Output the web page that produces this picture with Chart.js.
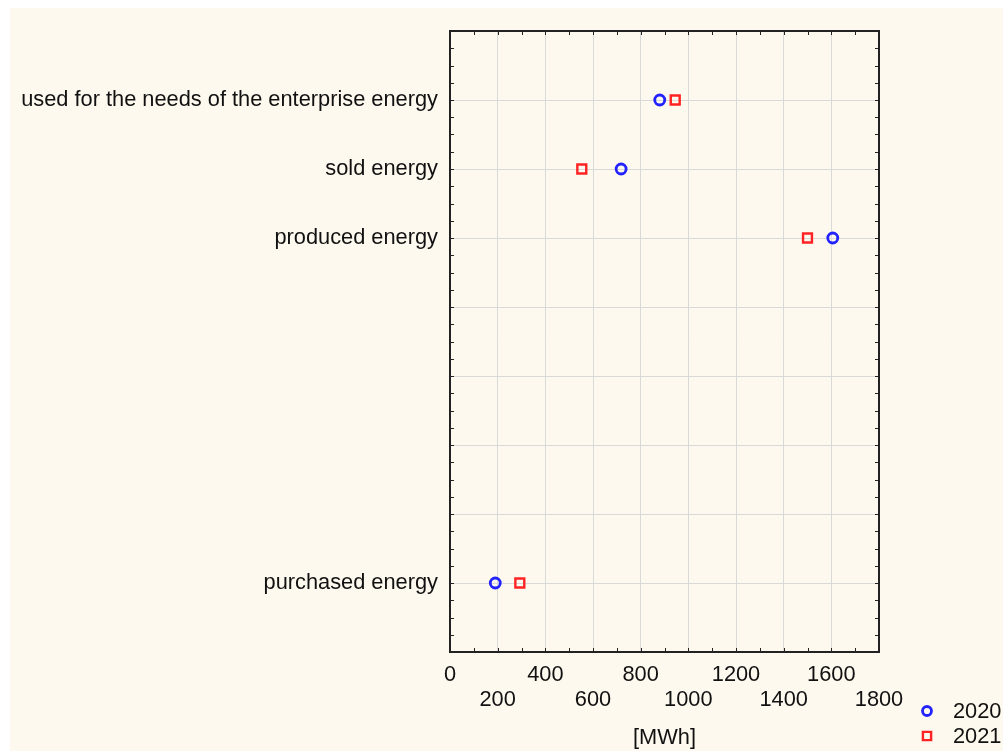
<!DOCTYPE html>
<html>
<head>
<meta charset="utf-8">
<title>Energy 2020 / 2021</title>
<script src="https://cdn.jsdelivr.net/npm/chart.js@4"></script>
<style>
  html, body { margin: 0; padding: 0; background: #ffffff; }
  #bg { position: absolute; left: 10px; top: 8px; right: 0; bottom: 0; background: #fef9ee; }
  #wrap { position: absolute; left: 0; top: 0; width: 1003px; height: 751px; }
</style>
</head>
<body>
<div id="bg"></div>
<div id="wrap"><canvas id="chart" width="1003" height="751"></canvas></div>
<script>
// Category slots on the vertical axis (bottom to top), blanks are empty rows
const slots = ['', 'purchased energy', '', '', '', '', 'produced energy', 'sold energy',
  'used for the needs of the enterprise energy', ''];

const categories = ['used for the needs of the enterprise energy', 'sold energy', 'produced energy', 'purchased energy'];
const values2020 = [880, 718, 1606, 190];
const values2021 = [945, 553, 1500, 293];

const seriesNames = ['2020', '2021'];
const xTicks = [0, 200, 400, 600, 800, 1000, 1200, 1400, 1600, 1800];
const xTitle = '[MWh]';

const FONT = 'Liberation Sans, Arial, sans-serif';
const FONT_SIZE = 21.8;
const TEXT = '#111111';

const toPoints = vals => vals.map((v, i) => ({ x: v, y: slots.indexOf(categories[i]) }));

// Frame around the plot with small inward ticks on every side
const framePlugin = {
  id: 'frame',
  afterDraw(chart) {
    const { ctx, chartArea: a, scales } = chart;
    const x = scales.x, y = scales.y;
    ctx.save();
    ctx.strokeStyle = '#222222';
    ctx.lineWidth = 1;
    ctx.beginPath();
    for (let v = x.min; v <= x.max; v += 100) {
      const px = Math.round(x.getPixelForValue(v)) + 0.5;
      ctx.moveTo(px, a.top); ctx.lineTo(px, a.top + 4);
      ctx.moveTo(px, a.bottom); ctx.lineTo(px, a.bottom - 4);
    }
    for (let v = y.min; v <= y.max; v += 0.25) {
      const py = Math.round(y.getPixelForValue(v)) + 0.5;
      ctx.moveTo(a.left, py); ctx.lineTo(a.left + 4, py);
      ctx.moveTo(a.right, py); ctx.lineTo(a.right - 4, py);
    }
    ctx.stroke();
    ctx.lineWidth = 2;
    ctx.strokeRect(a.left, a.top, a.right - a.left, a.bottom - a.top);
    ctx.restore();
  }
};

// Legend in the lower right corner, below the plot
const legendPlugin = {
  id: 'cornerLegend',
  afterDraw(chart) {
    const { ctx, chartArea: a } = chart;
    ctx.save();
    ctx.font = FONT_SIZE + 'px ' + FONT;
    ctx.textBaseline = 'middle';
    ctx.textAlign = 'left';
    chart.data.datasets.forEach((ds, i) => {
      const mx = a.right + 48;
      const my = a.bottom + 59 + i * 25;
      ctx.strokeStyle = ds.borderColor;
      ctx.fillStyle = 'rgba(0,0,0,0)';
      ctx.lineWidth = ds.borderWidth;
      Chart.helpers.drawPoint(ctx, { pointStyle: ds.pointStyle, radius: ds.pointRadius - 0.5, borderWidth: ds.borderWidth }, mx, my);
      ctx.fillStyle = TEXT;
      ctx.fillText(ds.label, a.right + 74, my + 1);
    });
    ctx.restore();
  }
};

new Chart(document.getElementById('chart'), {
  type: 'scatter',
  data: {
    datasets: [
      {
        label: seriesNames[0],
        data: toPoints(values2020),
        pointStyle: 'circle',
        pointRadius: 5,
        pointHoverRadius: 5,
        borderColor: '#2323ff',
        backgroundColor: 'rgba(255,255,255,0)',
        borderWidth: 2.8
      },
      {
        label: seriesNames[1],
        data: toPoints(values2021),
        pointStyle: 'rect',
        pointRadius: 6.3,
        pointHoverRadius: 6.3,
        borderColor: '#ff2323',
        backgroundColor: 'rgba(255,255,255,0)',
        borderWidth: 2.4
      }
    ]
  },
  options: {
    responsive: false,
    animation: false,
    devicePixelRatio: 1,
    layout: { padding: { left: 21, right: 124, top: 31, bottom: 0 } },
    plugins: {
      legend: { display: false },
      tooltip: { enabled: false }
    },
    scales: {
      x: {
        type: 'linear',
        min: xTicks[0],
        max: xTicks[xTicks.length - 1],
        afterBuildTicks: s => { s.ticks = xTicks.map(v => ({ value: v })); },
        grid: { color: '#d9d9d9', drawTicks: false },
        border: { display: false },
        ticks: {
          autoSkip: false,
          maxRotation: 0,
          padding: 10,
          color: TEXT,
          font: { family: FONT, size: FONT_SIZE, lineHeight: '25.4px' },
          callback: (v, i) => (i % 2 ? ['', String(v)] : String(v))
        },
        title: {
          display: true,
          text: xTitle,
          color: TEXT,
          font: { family: FONT, size: FONT_SIZE, lineHeight: '25.8px' },
          padding: { top: 2.4, bottom: 0 }
        }
      },
      y: {
        type: 'linear',
        min: 0,
        max: slots.length - 1,
        afterBuildTicks: s => { s.ticks = slots.map((_, i) => ({ value: i })); },
        grid: { color: '#d9d9d9', drawTicks: false },
        border: { display: false },
        ticks: {
          autoSkip: false,
          padding: 12,
          color: TEXT,
          font: { family: FONT, size: FONT_SIZE },
          callback: v => slots[v] || ''
        }
      }
    }
  },
  plugins: [framePlugin, legendPlugin]
});
</script>
</body>
</html>
